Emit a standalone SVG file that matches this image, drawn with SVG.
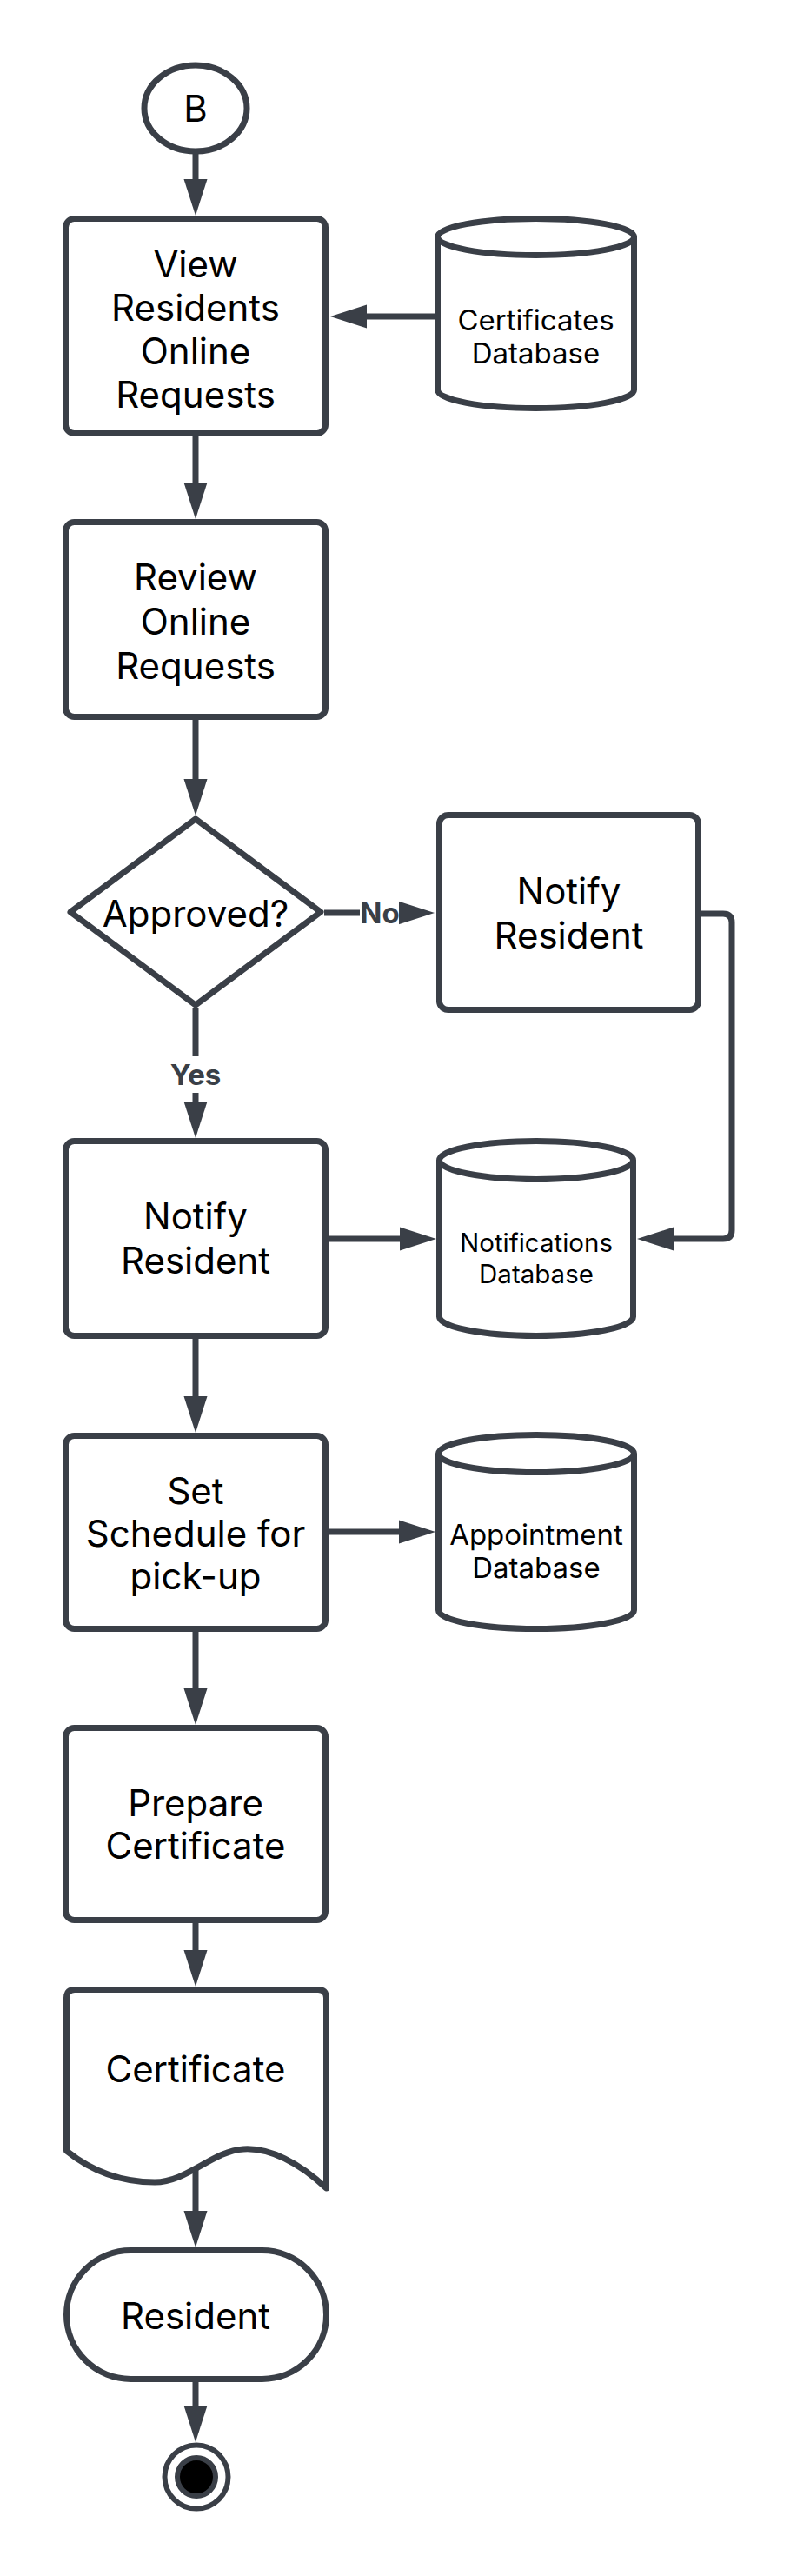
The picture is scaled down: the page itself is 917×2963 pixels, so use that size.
<svg xmlns="http://www.w3.org/2000/svg" width="917" height="2963" viewBox="0 0 917 2963">
<style>
.sh{fill:#fff;stroke:#3a3f47;stroke-width:7;stroke-linejoin:round}
.cn{fill:none;stroke:#3a3f47;stroke-width:7}
.t{font-family:Inter,"Liberation Sans",sans-serif;font-size:42px;fill:#000;text-anchor:middle}
.db{font-family:Inter,"Liberation Sans",sans-serif;font-size:33px;fill:#000;text-anchor:middle}
.lb{font-family:Inter,"Liberation Sans",sans-serif;font-size:33px;font-weight:bold;fill:#3a3f47;text-anchor:middle}
</style>
<defs>
<marker id="ah" markerUnits="userSpaceOnUse" markerWidth="42" markerHeight="28" refX="0" refY="14" orient="auto" overflow="visible">
<path d="M0,0.5 L42,14 L0,27.5 Z" fill="#3a3f47"/>
</marker>
</defs>
<rect width="917" height="2963" fill="#fff"/>

<g id="connectors">
<path class="cn" d="M225 177 V206" marker-end="url(#ah)"/>
<path class="cn" d="M500 364 H422" marker-end="url(#ah)"/>
<path class="cn" d="M225 502 V555" marker-end="url(#ah)"/>
<path class="cn" d="M225 828 V896" marker-end="url(#ah)"/>
<path class="cn" d="M373 1050 H458" marker-end="url(#ah)"/>
<path class="cn" d="M225 1160 V1267" marker-end="url(#ah)"/>
<path class="cn" d="M807 1051 H832 Q842 1051 842 1061 V1415 Q842 1425 832 1425 H775" marker-end="url(#ah)"/>
<path class="cn" d="M378 1425 H460" marker-end="url(#ah)"/>
<path class="cn" d="M225 1540 V1606" marker-end="url(#ah)"/>
<path class="cn" d="M378 1762 H459" marker-end="url(#ah)"/>
<path class="cn" d="M225 1877 V1942" marker-end="url(#ah)"/>
<path class="cn" d="M225 2212 V2243" marker-end="url(#ah)"/>
<path class="cn" d="M225 2490 V2543" marker-end="url(#ah)"/>
<path class="cn" d="M225 2740 V2767" marker-end="url(#ah)"/>
<rect x="414" y="1030" width="45" height="40" fill="#fff"/>
<text class="lb" x="437" y="1062">No</text>
<rect x="194" y="1215" width="62" height="42" fill="#fff"/>
<text class="lb" x="225" y="1248">Yes</text>
</g>

<g id="start">
<ellipse class="sh" cx="225" cy="124.5" rx="59" ry="49.5"/>
<text class="t" x="225" y="140">B</text>
</g>

<g id="view">
<rect class="sh" x="75.5" y="251.5" width="299" height="247" rx="10"/>
<text class="t" x="225" y="319">View</text>
<text class="t" x="225" y="369">Residents</text>
<text class="t" x="225" y="419">Online</text>
<text class="t" x="225" y="469">Requests</text>
</g>

<g id="certdb">
<path class="sh" d="M503.5 272.5 A113 21 0 0 1 729.5 272.5 V448.5 A113 21 0 0 1 503.5 448.5 Z"/>
<path class="cn" d="M503.5 272.5 A113 21 0 0 0 729.5 272.5"/>
<text class="db" x="616.5" y="380">Certificates</text>
<text class="db" x="616.5" y="418">Database</text>
</g>

<g id="review">
<rect class="sh" x="75.5" y="600.5" width="299" height="224" rx="10"/>
<text class="t" x="225" y="679">Review</text>
<text class="t" x="225" y="730">Online</text>
<text class="t" x="225" y="781">Requests</text>
</g>

<g id="approved">
<path class="sh" d="M225 942 L369 1049 L225 1156 L81 1049 Z"/>
<text class="t" x="225" y="1066">Approved?</text>
</g>

<g id="notify-no">
<rect class="sh" x="505.5" y="937.5" width="298" height="224" rx="10"/>
<text class="t" x="654.5" y="1040">Notify</text>
<text class="t" x="654.5" y="1091">Resident</text>
</g>

<g id="notify-yes">
<rect class="sh" x="75.5" y="1312.5" width="299" height="224" rx="10"/>
<text class="t" x="225" y="1414">Notify</text>
<text class="t" x="225" y="1465">Resident</text>
</g>

<g id="notifdb">
<path class="sh" d="M505.5 1334.5 A111.5 22 0 0 1 728.5 1334.5 V1514.5 A111.5 22 0 0 1 505.5 1514.5 Z"/>
<path class="cn" d="M505.5 1334.5 A111.5 22 0 0 0 728.5 1334.5"/>
<text class="db" x="617" y="1440" style="font-size:29.5px">Notifications</text>
<text class="db" x="617" y="1476" style="font-size:29.5px">Database</text>
</g>

<g id="schedule">
<rect class="sh" x="75.5" y="1651.5" width="299" height="222" rx="10"/>
<text class="t" x="225" y="1730">Set</text>
<text class="t" x="225" y="1779">Schedule for</text>
<text class="t" x="225" y="1828">pick-up</text>
</g>

<g id="apptdb">
<path class="sh" d="M504.5 1672 A112.5 21.5 0 0 1 729.5 1672 V1852 A112.5 21.5 0 0 1 504.5 1852 Z"/>
<path class="cn" d="M504.5 1672 A112.5 21.5 0 0 0 729.5 1672"/>
<text class="db" x="617" y="1777">Appointment</text>
<text class="db" x="617" y="1815">Database</text>
</g>

<g id="prepare">
<rect class="sh" x="75.5" y="1987.5" width="299" height="221" rx="10"/>
<text class="t" x="225" y="2089">Prepare</text>
<text class="t" x="225" y="2138">Certificate</text>
</g>

<g id="certificate">
<path class="sh" d="M76.5 2474 V2298 Q76.5 2288.5 86 2288.5 H366 Q375.5 2288.5 375.5 2298 V2517 C345 2488 310 2470 280 2472 C245 2474 215 2510 178 2510 C140 2510 105 2497 76.5 2474 Z"/>
<text class="t" x="225" y="2395">Certificate</text>
</g>

<g id="resident">
<rect class="sh" x="76.5" y="2588.5" width="299" height="148" rx="74"/>
<text class="t" x="225" y="2679">Resident</text>
</g>

<g id="end">
<circle cx="226" cy="2849" r="36.5" fill="#fff" stroke="#3a3f47" stroke-width="6"/>
<circle cx="226" cy="2849" r="22" fill="#000" stroke="#3a3f47" stroke-width="6"/>
</g>
</svg>
